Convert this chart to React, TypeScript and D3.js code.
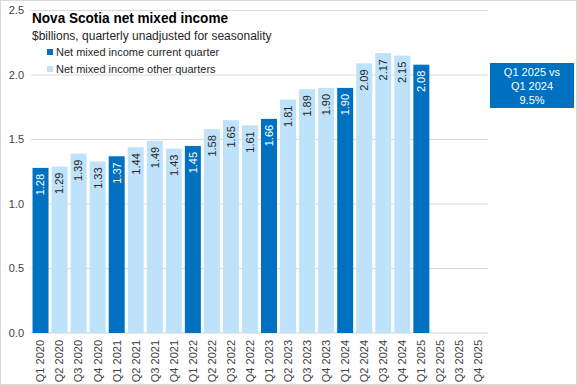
import React from 'react';
import * as d3 from 'd3';

const quarters = [
  'Q1 2020', 'Q2 2020', 'Q3 2020', 'Q4 2020',
  'Q1 2021', 'Q2 2021', 'Q3 2021', 'Q4 2021',
  'Q1 2022', 'Q2 2022', 'Q3 2022', 'Q4 2022',
  'Q1 2023', 'Q2 2023', 'Q3 2023', 'Q4 2023',
  'Q1 2024', 'Q2 2024', 'Q3 2024', 'Q4 2024',
  'Q1 2025', 'Q2 2025', 'Q3 2025', 'Q4 2025'
];
const values: (number | null)[] = [
  1.28, 1.29, 1.39, 1.33,
  1.37, 1.44, 1.49, 1.43,
  1.45, 1.58, 1.65, 1.61,
  1.66, 1.81, 1.89, 1.90,
  1.90, 2.09, 2.17, 2.15,
  2.08, null, null, null
];
const yTicks = [0, 0.5, 1.0, 1.5, 2.0, 2.5];
const legendItems = ['Net mixed income current quarter', 'Net mixed income other quarters'];
const noteLines = ['Q1 2025 vs', 'Q1 2024', '9.5%'];

const DARK = '#0070C0';
const LIGHT = '#BFE2FB';
const FONT = '"Liberation Sans", Arial, sans-serif';

export default function App() {
  const width = 577, height = 385;
  const margin = {top: 10.5, right: 89, bottom: 52, left: 31};

  const x = d3.scaleBand<string>()
    .domain(quarters)
    .range([margin.left, width - margin.right])
    .paddingInner(0.16)
    .paddingOuter(0.08);

  const y = d3.scaleLinear()
    .domain([0, 2.5])
    .range([height - margin.bottom, margin.top]);

  const isCurrent = (q: string) => q.startsWith('Q1');

  const grid = yTicks.map((t, i) => (
    <g key={i}>
      <line x1={margin.left} x2={width - margin.right} y1={y(t)} y2={y(t)}
            stroke={t === 0 ? '#d0d0d0' : '#d9d9d9'} strokeWidth={1}/>
      <text x={24} y={y(t)} dy="0.35em" textAnchor="end" fontSize={11}
            fill="#404040" fontFamily={FONT}>{t.toFixed(1)}</text>
    </g>
  ));

  const bars = quarters.map((q, i) => {
    const v = values[i];
    if (v == null) return null;
    const bx = x(q)!;
    const by = y(v);
    return (
      <g key={q}>
        <rect x={bx} y={by} width={x.bandwidth()} height={y(0) - by}
              fill={isCurrent(q) ? DARK : LIGHT}/>
        <text transform={`translate(${bx + x.bandwidth() / 2},${by + 6}) rotate(-90)`}
              textAnchor="end" dy="0.35em" fontSize={11} fontFamily={FONT}
              fill={isCurrent(q) ? '#ffffff' : '#262626'}>{v.toFixed(2)}</text>
      </g>
    );
  });

  const xLabels = quarters.map(q => (
    <text key={q}
          transform={`translate(${x(q)! + x.bandwidth() / 2},${y(0) + 7}) rotate(-90)`}
          textAnchor="end" dy="0.35em" fontSize={11} fontFamily={FONT}
          fill="#404040">{q}</text>
  ));

  return (
    <svg width={width} height={height}
         style={{position: 'absolute', left: 0, top: 0, background: '#fff'}}>
      <rect x={0.5} y={0.5} width={width - 1} height={height - 1} fill="#fff" stroke="#d9d9d9"/>
      {grid}
      {bars}
      {xLabels}
      <text x={32} y={23} fontSize={15.5} fontWeight="bold" fill="#000"
            textLength={196} lengthAdjust="spacingAndGlyphs"
            fontFamily={FONT}>Nova Scotia net mixed income</text>
      <text x={32} y={40} fontSize={12} fill="#262626"
            fontFamily={FONT}>$billions, quarterly unadjusted for seasonality</text>
      {legendItems.map((d, i) => (
        <g key={d} transform={`translate(47,${53 + i * 17})`}>
          <rect x={0} y={-4} width={6} height={6} fill={i === 0 ? DARK : LIGHT}/>
          <text x={9} y={0} dy="0.3em" fontSize={11} fill="#262626" fontFamily={FONT}>{d}</text>
        </g>
      ))}
      <rect x={490} y={63} width={84} height={45} fill={DARK}/>
      {noteLines.map((d, i) => (
        <text key={i} x={532} y={72 + i * 14} dy="0.35em" textAnchor="middle"
              fontSize={11} fill="#fff" fontFamily={FONT}>{d}</text>
      ))}
    </svg>
  );
}
